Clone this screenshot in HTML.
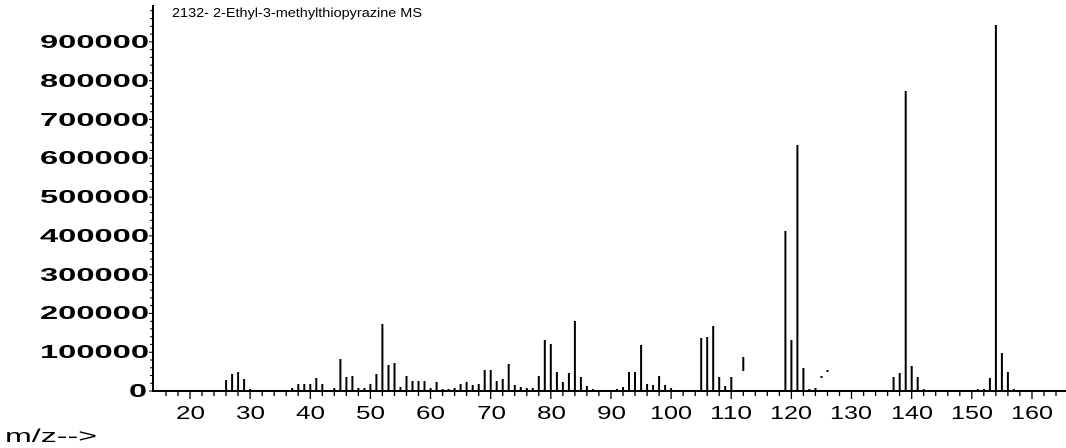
<!DOCTYPE html>
<html><head><meta charset="utf-8"><style>
html,body{margin:0;padding:0;background:#fff;width:1066px;height:448px;overflow:hidden}
svg{display:block}
</style></head><body>
<svg width="1066" height="448" xmlns="http://www.w3.org/2000/svg" font-family="Liberation Sans, Arial, sans-serif">
<text x="172" y="17" font-size="13" fill="#000" textLength="250" lengthAdjust="spacingAndGlyphs">2132- 2-Ethyl-3-methylthiopyrazine MS</text>
<g stroke="#000" stroke-width="2" fill="none">
<line x1="153" y1="5" x2="153" y2="392"/>
<line x1="152" y1="391" x2="1066" y2="391"/>
</g>
<g stroke="#000" stroke-width="1">
<path d="M149 391h4M150 383.2h3M150 375.5h3M150 367.7h3M150 360h3
M149 352.2h4M150 344.4h3M150 336.7h3M150 328.9h3M150 321.2h3
M149 313.4h4M150 305.6h3M150 297.9h3M150 290.1h3M150 282.4h3
M149 274.7h4M150 266.9h3M150 259.1h3M150 251.4h3M150 243.6h3
M149 235.9h4M150 228.1h3M150 220.3h3M150 212.6h3M150 204.8h3
M149 197.1h4M150 189.3h3M150 181.5h3M150 173.8h3M150 166h3
M149 158.3h4M150 150.5h3M150 142.7h3M150 135h3M150 127.2h3
M149 119.4h4M150 111.7h3M150 103.9h3M150 96.2h3M150 88.4h3
M149 80.7h4M150 72.9h3M150 65.1h3M150 57.4h3M150 49.6h3
M149 41.9h4M150 34.1h3M150 26.3h3M150 18.6h3M150 10.8h3"/>
</g>
<g font-size="18" font-weight="bold" fill="#000">
<text x="129" y="397" textLength="18" lengthAdjust="spacingAndGlyphs">0</text>
<text x="40" y="358" textLength="109" lengthAdjust="spacingAndGlyphs">100000</text>
<text x="40" y="319" textLength="109" lengthAdjust="spacingAndGlyphs">200000</text>
<text x="40" y="281" textLength="109" lengthAdjust="spacingAndGlyphs">300000</text>
<text x="40" y="242" textLength="109" lengthAdjust="spacingAndGlyphs">400000</text>
<text x="40" y="203" textLength="109" lengthAdjust="spacingAndGlyphs">500000</text>
<text x="40" y="164" textLength="109" lengthAdjust="spacingAndGlyphs">600000</text>
<text x="40" y="126" textLength="109" lengthAdjust="spacingAndGlyphs">700000</text>
<text x="40" y="87" textLength="109" lengthAdjust="spacingAndGlyphs">800000</text>
<text x="40" y="48" textLength="109" lengthAdjust="spacingAndGlyphs">900000</text>
</g>
<g stroke="#000" stroke-width="1.3">
<path d="M166 391v5M178 391v5M190 391v8M202 391v5M214 391v5M226 391v5M238 391v5M250.1 391v8M262.2 391v5M274.2 391v5M286.2 391v5M298.2 391v5M310.3 391v8M322.3 391v5M334.3 391v5M346.3 391v5M358.4 391v5M370.4 391v8M382.4 391v5M394.5 391v5M406.5 391v5M418.5 391v5M430.5 391v8M442.6 391v5M454.6 391v5M466.6 391v5M478.7 391v5M490.7 391v8M502.7 391v5M514.7 391v5M526.8 391v5M538.8 391v5M550.8 391v8M562.9 391v5M574.9 391v5M586.9 391v5M598.9 391v5M611 391v8M623 391v5M635 391v5M647.1 391v5M659.1 391v5M671.1 391v8M683.1 391v5M695.2 391v5M707.2 391v5M719.2 391v5M731.2 391v8M743.3 391v5M755.3 391v5M767.3 391v5M779.4 391v5M791.4 391v8M803.4 391v5M815.4 391v5M827.5 391v5M839.5 391v5M851.5 391v8M863.6 391v5M875.6 391v5M887.6 391v5M899.6 391v5M911.7 391v8M923.7 391v5M935.7 391v5M947.8 391v5M959.8 391v5M971.8 391v8M983.8 391v5M995.9 391v5M1007.9 391v5M1019.9 391v5M1032 391v8M1044 391v5M1056 391v5"/>
</g>
<g font-size="18" fill="#000" lengthAdjust="spacingAndGlyphs">
<text x="176" y="419" textLength="29" lengthAdjust="spacingAndGlyphs">20</text>
<text x="236" y="419" textLength="29" lengthAdjust="spacingAndGlyphs">30</text>
<text x="296" y="419" textLength="29" lengthAdjust="spacingAndGlyphs">40</text>
<text x="356" y="419" textLength="29" lengthAdjust="spacingAndGlyphs">50</text>
<text x="416" y="419" textLength="29" lengthAdjust="spacingAndGlyphs">60</text>
<text x="477" y="419" textLength="29" lengthAdjust="spacingAndGlyphs">70</text>
<text x="537" y="419" textLength="29" lengthAdjust="spacingAndGlyphs">80</text>
<text x="597" y="419" textLength="29" lengthAdjust="spacingAndGlyphs">90</text>
<text x="650" y="419" textLength="42" lengthAdjust="spacingAndGlyphs">100</text>
<text x="710" y="419" textLength="42" lengthAdjust="spacingAndGlyphs">110</text>
<text x="770" y="419" textLength="42" lengthAdjust="spacingAndGlyphs">120</text>
<text x="830" y="419" textLength="42" lengthAdjust="spacingAndGlyphs">130</text>
<text x="891" y="419" textLength="42" lengthAdjust="spacingAndGlyphs">140</text>
<text x="951" y="419" textLength="42" lengthAdjust="spacingAndGlyphs">150</text>
<text x="1011" y="419" textLength="42" lengthAdjust="spacingAndGlyphs">160</text>
</g>
<text x="5" y="442" font-size="18" fill="#000" textLength="92" lengthAdjust="spacingAndGlyphs">m/z--&gt;</text>
<g stroke="#000" stroke-width="2" transform="translate(-6,0)">
<path d="M232.1 391V380M238.1 391V374M244.1 391V372M250.1 391V379M256.1 391V389M268.2 391V390M298.2 391V388M304.3 391V384M310.3 391V384M316.3 391V384M322.3 391V378M328.3 391V384M340.3 391V388M346.4 391V359M352.4 391V377M358.4 391V376M364.4 391V388M370.4 391V388M376.4 391V384M382.4 391V374M388.4 391V324M394.5 391V365M400.5 391V363M406.5 391V387M412.5 391V376M418.5 391V381M424.5 391V381M430.5 391V381M436.6 391V388M442.6 391V382M448.6 391V389M454.6 391V389M460.6 391V388M466.6 391V384M472.6 391V382M478.7 391V385M484.7 391V384M490.7 391V370M496.7 391V370M502.7 391V381M508.7 391V379M514.7 391V364M520.8 391V385M526.8 391V387M532.8 391V388M538.8 391V388M544.8 391V376M550.8 391V340M556.8 391V344M562.9 391V372M568.9 391V382M574.9 391V373M580.9 391V321M586.9 391V377M592.9 391V386M598.9 391V389M623 391V389M629 391V387M635 391V372M641 391V372M647.1 391V345M653.1 391V384M659.1 391V385M665.1 391V376M671.1 391V385M677.1 391V388M683.1 391V390M707.2 391V338M713.2 391V337M719.2 391V326M725.2 391V377M731.2 391V386M737.3 391V377M749.3 371V357M791.4 391V231M797.4 391V340M803.4 391V145M809.4 391V368M815.4 391V389M821.5 391V388M827.5 378V376M833.5 372V370M899.6 391V377M905.7 391V373M911.7 391V91M917.7 391V366M923.7 391V377M929.7 391V389M983.8 391V389M989.9 391V389M995.9 391V378M1001.9 391V25M1007.9 391V353M1013.9 391V372M1019.9 391V389"/>
</g>
</svg>
</body></html>
